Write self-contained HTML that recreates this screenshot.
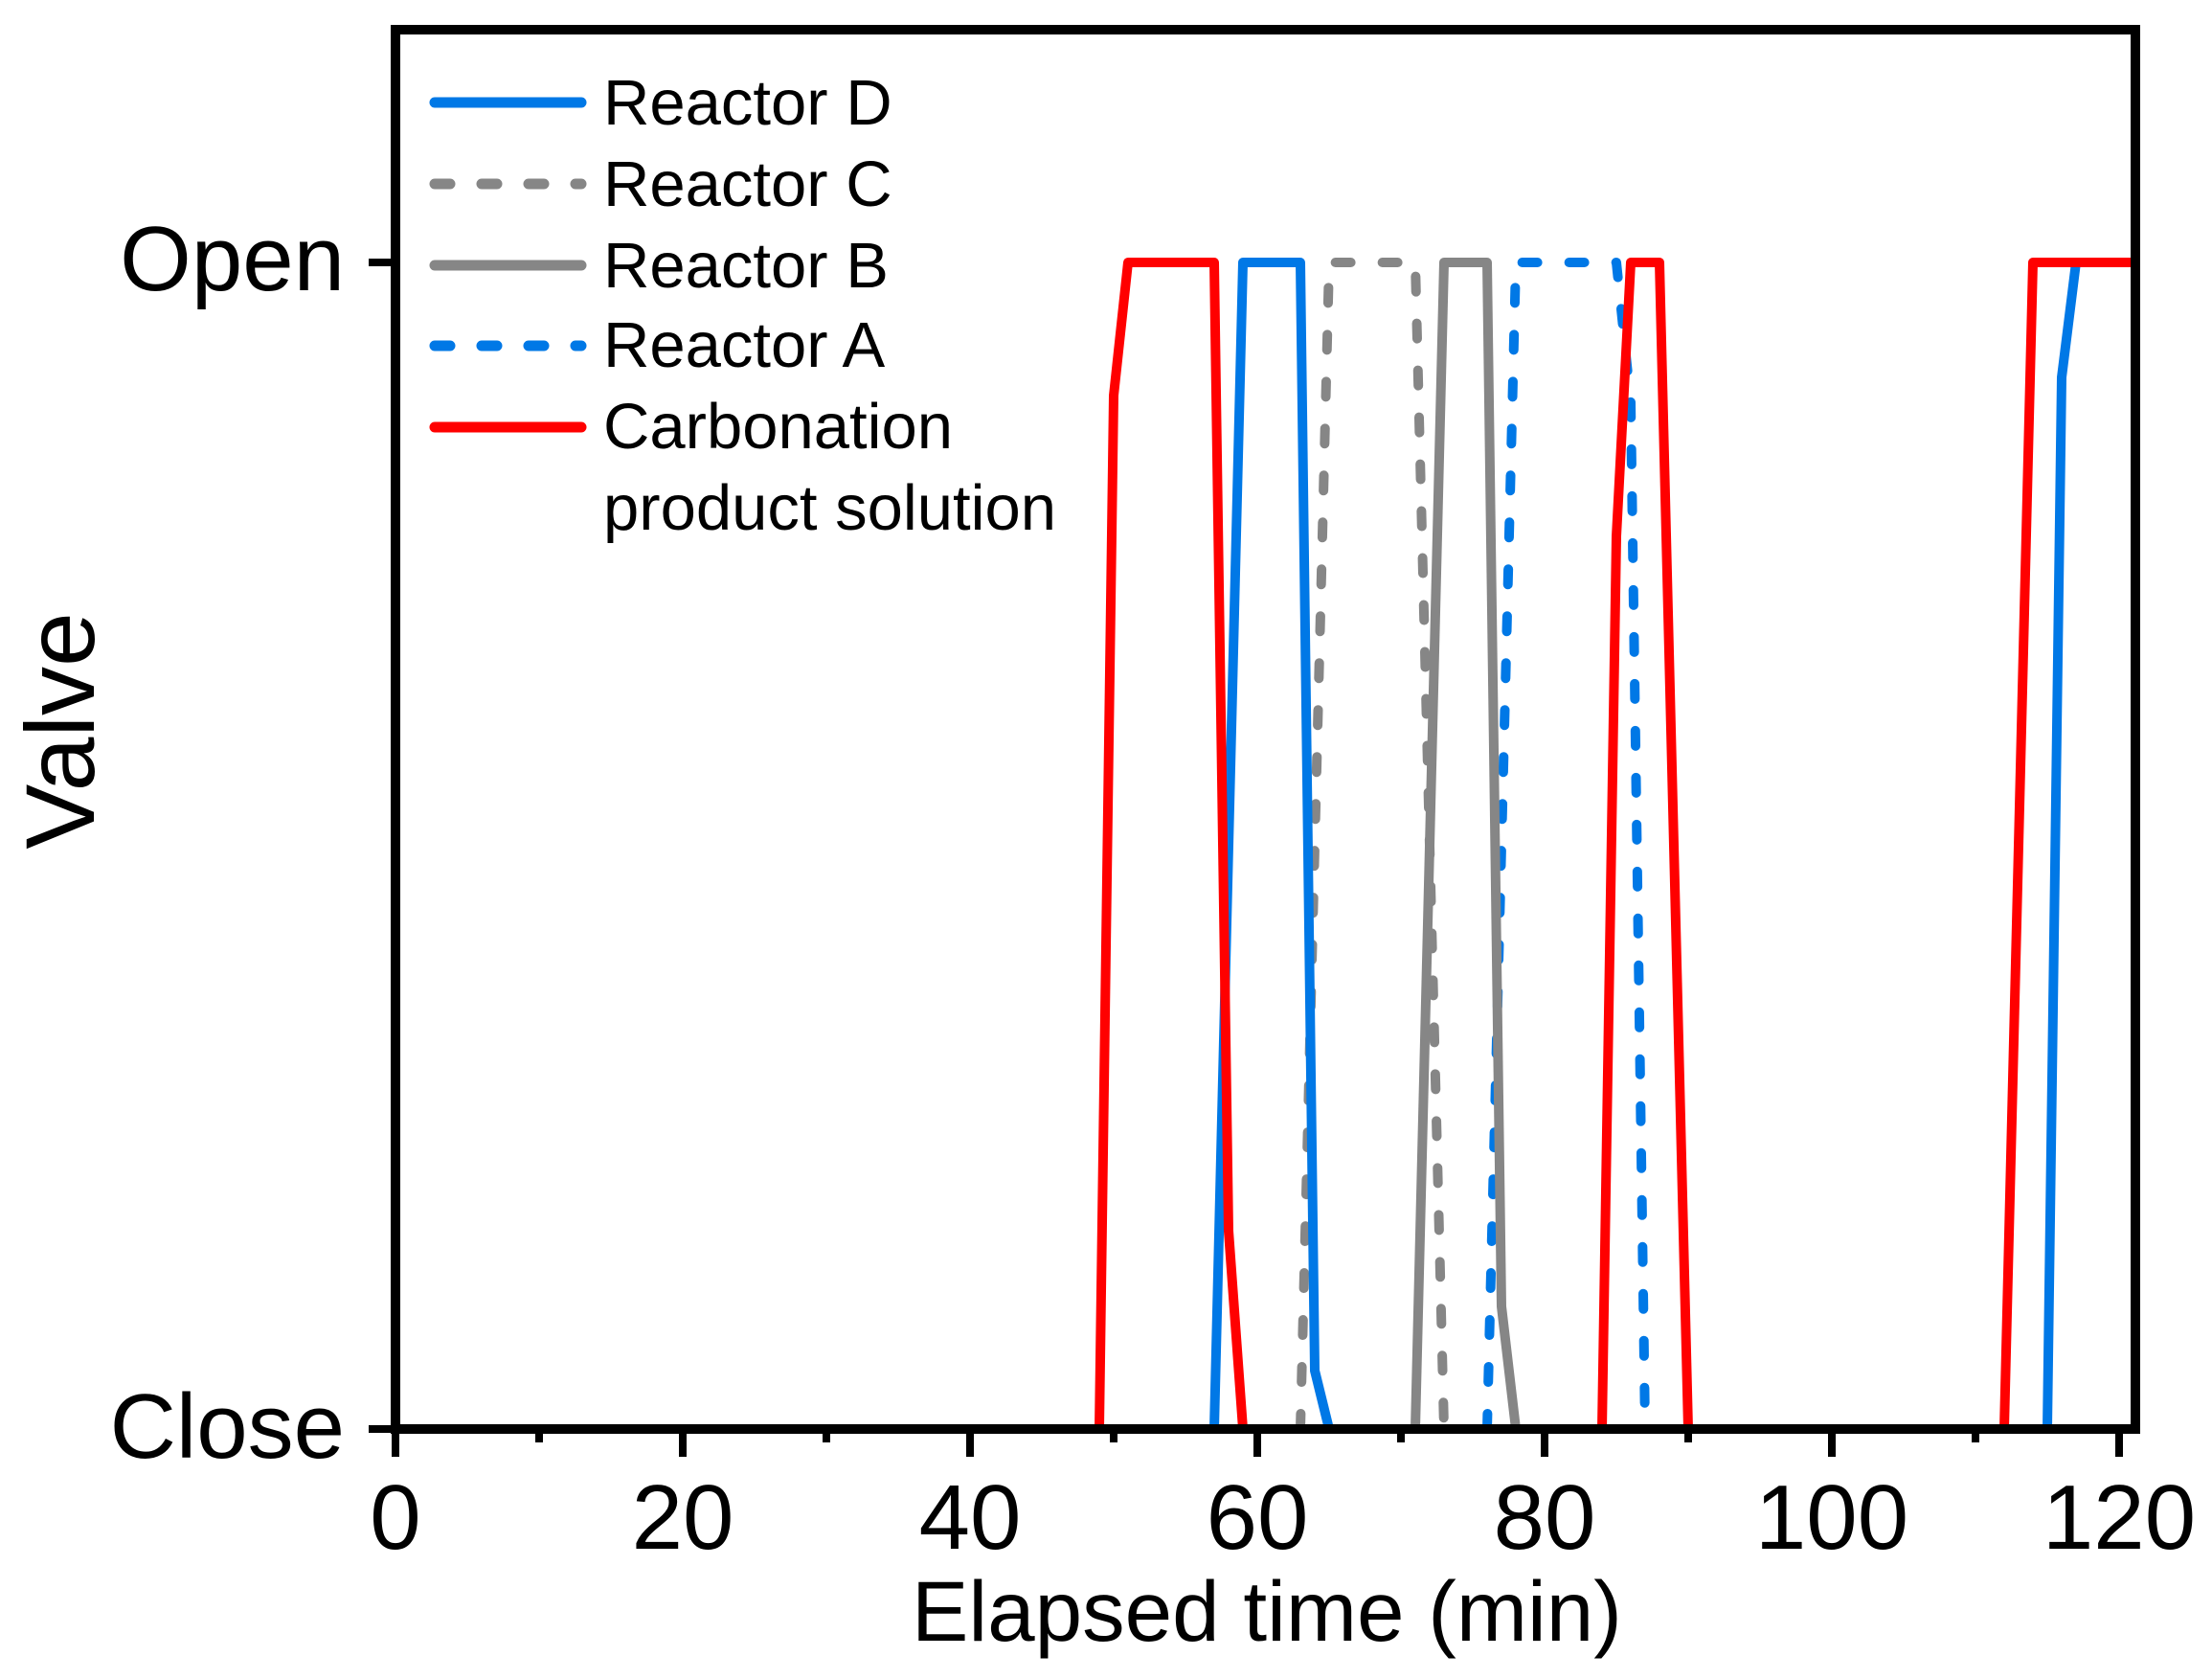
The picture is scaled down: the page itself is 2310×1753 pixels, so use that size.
<!DOCTYPE html>
<html><head><meta charset="utf-8"><style>html,body{margin:0;padding:0;background:#fff}svg{display:block}</style></head>
<body>
<svg width="2310" height="1753" viewBox="0 0 2310 1753" xmlns="http://www.w3.org/2000/svg" font-family="Liberation Sans, Arial, sans-serif">
<rect width="2310" height="1753" fill="#fff"/>
<g fill="none" stroke-width="10" stroke-linejoin="round">
<!-- Reactor A dashed blue: x=413+15t, open y=274, close y=1492 -->
<polyline stroke="#0078E6" stroke-dasharray="16 33" stroke-linecap="round" points="1553,1492 1583,274 1688,274 1703,420 1718,1492"/>
<!-- Reactor B gray solid -->
<polyline stroke="#868686" points="1478,1492 1508,274 1553,274 1568,1364 1583,1492"/>
<!-- Reactor C gray dashed -->
<polyline stroke="#868686" stroke-dasharray="16 33" stroke-linecap="round" points="1358,1492 1388,274 1478,274 1508,1492"/>
<!-- Reactor D blue -->
<polyline stroke="#0078E6" points="1268,1492 1298,274 1358,274 1373,1431 1388,1492"/>
<polyline stroke="#0078E6" points="2138,1492 2153,394 2168,274"/>
<!-- Carbonation red -->
<polyline stroke="#FF0000" points="1148,1492 1163,413 1178,274 1268,274 1283,1285 1298,1492"/>
<polyline stroke="#FF0000" points="1673,1492 1688,560 1703,274 1733,274 1763,1492"/>
<polyline stroke="#FF0000" points="2093,1492 2123,274 2225,274"/>
</g>
<!-- axes frame -->
<rect x="413" y="31" width="1817" height="1461" fill="none" stroke="#000" stroke-width="10"/>
<g stroke="#000" stroke-width="8">
<line x1="413" y1="1492" x2="413" y2="1521"/>
<line x1="713" y1="1492" x2="713" y2="1521"/>
<line x1="1013" y1="1492" x2="1013" y2="1521"/>
<line x1="1313" y1="1492" x2="1313" y2="1521"/>
<line x1="1613" y1="1492" x2="1613" y2="1521"/>
<line x1="1913" y1="1492" x2="1913" y2="1521"/>
<line x1="2213" y1="1492" x2="2213" y2="1521"/>
<line x1="563" y1="1492" x2="563" y2="1506"/>
<line x1="863" y1="1492" x2="863" y2="1506"/>
<line x1="1163" y1="1492" x2="1163" y2="1506"/>
<line x1="1463" y1="1492" x2="1463" y2="1506"/>
<line x1="1763" y1="1492" x2="1763" y2="1506"/>
<line x1="2063" y1="1492" x2="2063" y2="1506"/>
<line x1="385" y1="274" x2="413" y2="274"/>
<line x1="385" y1="1492" x2="413" y2="1492"/>
</g>
<g font-size="96" fill="#000" text-anchor="middle">
<text x="413" y="1617">0</text>
<text x="713" y="1617">20</text>
<text x="1013" y="1617">40</text>
<text x="1313" y="1617">60</text>
<text x="1613" y="1617">80</text>
<text x="1913" y="1617">100</text>
<text x="2213" y="1617">120</text>
</g>
<g font-size="96" fill="#000" text-anchor="end">
<text x="360" y="303">Open</text>
<text x="360" y="1522">Close</text>
</g>
<text x="1323" y="1713" font-size="89" text-anchor="middle">Elapsed time (min)</text>
<text transform="translate(98,763) rotate(-90)" font-size="102" text-anchor="middle">Valve</text>
<!-- legend -->
<g stroke-width="11" stroke-linecap="round">
<line x1="454" y1="107" x2="607" y2="107" stroke="#0078E6"/>
<line x1="454" y1="192" x2="607" y2="192" stroke="#868686" stroke-dasharray="16 33"/>
<line x1="454" y1="277" x2="607" y2="277" stroke="#868686"/>
<line x1="454" y1="361" x2="607" y2="361" stroke="#0078E6" stroke-dasharray="16 33"/>
<line x1="454" y1="446" x2="607" y2="446" stroke="#FF0000"/>
</g>
<g font-size="67" fill="#000">
<text x="630" y="130">Reactor D</text>
<text x="630" y="215">Reactor C</text>
<text x="630" y="300">Reactor B</text>
<text x="630" y="383">Reactor A</text>
<text x="630" y="468">Carbonation</text>
<text x="630" y="553">product solution</text>
</g>
</svg>
</body></html>
